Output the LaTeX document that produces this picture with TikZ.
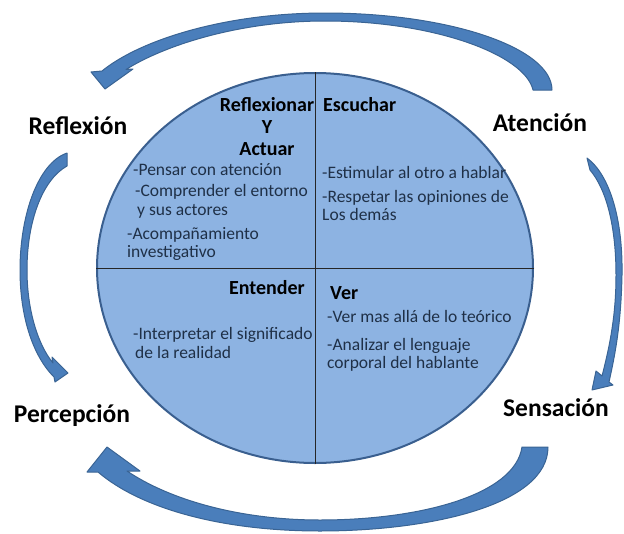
\documentclass[tikz,border=0pt]{standalone}
\usepackage{fontspec}
\setmainfont{Carlito}
\usepackage{xcolor}
\usetikzlibrary{shapes.geometric}
\definecolor{ovalfill}{HTML}{8DB3E2}
\definecolor{ovalline}{HTML}{3A5F8F}
\definecolor{arrowfill}{HTML}{4A7EBB}
\definecolor{arrowline}{HTML}{3A6494}
\definecolor{bodytext}{HTML}{1F3047}
\tikzset{
	etapa/.style={font=\fontsize{25.5}{28}\selectfont\bfseries, anchor=base, inner sep=0pt},
	titulo/.style={font=\fontsize{20}{22}\selectfont\bfseries, inner sep=0pt},
	item/.style={font=\fontsize{17.5}{18.5}\selectfont, text=bodytext, align=left, anchor=base west, inner sep=0pt},
	flecha/.style={fill=arrowfill, draw=arrowline, line width=1pt, line join=round},
	divisor/.style={draw=black!85, line width=1pt}
}

\begin{document}
\begin{tikzpicture}[x=1pt,y=-1pt]
			\useasboundingbox (0,0) rectangle (624,533);
			\draw[flecha] (552,90) .. controls (552,48) and (450,13) .. (325,13) .. controls (225,13) and (140,40) .. (102,71) -- (91,72) -- (105,89) -- (133,69) -- (126,69.5) .. controls (165,45) and (240,21) .. (325,21) .. controls (435,21) and (525,55) .. (533,90) -- cycle;
			\draw[flecha] (587,158) .. controls (610,175) and (623,220) .. (622,275) .. controls (621,325) and (615,355) .. (609,382) -- (613,385) -- (592,390) -- (596,371) -- (602,376) .. controls (610,345) and (616,315) .. (616,275) .. controls (616,228) and (607,190) .. (590,170) -- cycle;
			\draw[flecha] (548,447) .. controls (548,505) and (430,531) .. (320,531) .. controls (220,531) and (140,508) .. (98,472) -- (87,472) -- (107,447) -- (140,471) -- (127,471) .. controls (170,500) and (240,520) .. (320,520) .. controls (420,520) and (515,495) .. (522,447) -- cycle;
			\draw[flecha] (67,153) .. controls (38,163) and (20,215) .. (20,270) .. controls (20,315) and (32,355) .. (54,377) -- (55,382) -- (68,373) -- (52,357) -- (53,363) .. controls (38,345) and (27,310) .. (27,270) .. controls (27,222) and (42,180) .. (67,166) -- cycle;
			\node[draw=ovalline, fill=ovalfill, ellipse, line width=2pt, minimum width=436pt, minimum height=390pt, inner sep=0pt] (ovalo) at (315,268) {};
			\draw[divisor] (ovalo.north) -- (ovalo.south);
			\draw[divisor] (ovalo.west) -- (ovalo.east);
			\node[etapa] (reflexion) at (78,134) {Reflexión};
			\node[etapa] (atencion) at (540,131) {Atención};
			\node[etapa] (percepcion) at (72,422) {Percepción};
			\node[etapa] (sensacion) at (556,416) {Sensación};
			\node[titulo, anchor=base, align=center] (actuar) at (267,155.5) {Reflexionar\\Y\\Actuar};
			\node[titulo, anchor=base west] (escuchar) at (323,111.5) {Escuchar};
			\node[titulo, anchor=base east] (entender) at (305,294.5) {Entender};
			\node[titulo, anchor=base west] (ver) at (330,299.5) {Ver};
			\node[item] (pensar) at (133,175) {-Pensar con atención};
			\node[item] (comprender) at (135,215) {-Comprender el entorno\\\hspace{2pt}y sus actores};
			\node[item] (acompanar) at (127,257.5) {-Acompañamiento\\investigativo};
			\node[item] (estimular) at (322,178) {-Estimular al otro a hablar};
			\node[item] (respetar) at (322,220.5) {-Respetar las opiniones de\\Los demás};
			\node[item] (interpretar) at (133,358) {-Interpretar el significado\\\hspace{2pt}de la realidad};
			\node[item] (vermas) at (327,322) {-Ver mas allá de lo teórico};
			\node[item] (analizar) at (327,368.5) {-Analizar el lenguaje\\corporal del hablante};
		\end{tikzpicture}
\end{document}
